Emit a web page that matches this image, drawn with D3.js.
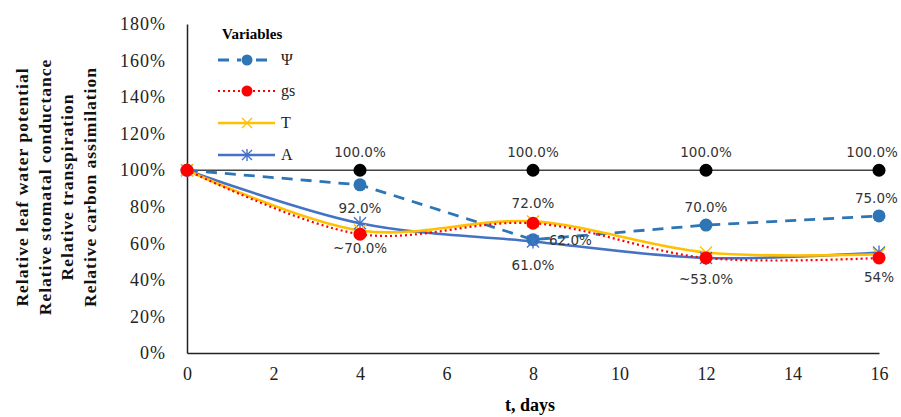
<!DOCTYPE html>
<html>
<head>
<meta charset="utf-8">
<script src="https://cdn.jsdelivr.net/npm/d3@7"></script>
<style>
  body { margin: 0; background: #fff; }
  svg { display: block; }
</style>
</head>
<body>
<div id="chart"></div>
<script>
// days on x axis
const days = [0, 4, 8, 12, 16];
const controlVals = [100, 100, 100, 100, 100];
const psiVals = [100, 92, 62, 70, 75];
const gsVals = [100, 65, 71, 52, 52];
const tVals = [100, 67, 72, 55, 54];
const aVals = [100, 71, 61, 52, 55];
const xTicks = [0, 2, 4, 6, 8, 10, 12, 14, 16];
const yTicks = [0, 20, 40, 60, 80, 100, 120, 140, 160, 180];
const legendNames = ["Ψ", "gs", "T", "A"];
const yTitleLines = ["Relative leaf water potential", "Relative stomatal conductance",
                     "Relative transpiration", "Relative carbon assimilation"];
// point labels: day, value shown, text, where it sits
const labelDays = [4, 8, 12, 16, 4, 4, 8, 8, 8, 12, 12, 16, 16];
const labelVals = [100, 100, 100, 100, 92, 70, 72, 62, 61, 70, 53, 75, 54];
const labelTexts = ["100.0%", "100.0%", "100.0%", "100.0%", "92.0%", "~70.0%", "72.0%",
                    "62.0%", "61.0%", "70.0%", "~53.0%", "75.0%", "54%"];
const labelPlace = ["above", "above", "above", "above", "below", "below", "above",
                    "right", "below", "above", "below", "above", "below"];

const W = 901, H = 417;
const svg = d3.select("#chart").append("svg")
    .attr("width", W)
    .attr("height", H);

svg.append("rect").attr("width", W).attr("height", H).attr("fill", "#fff");

const x = d3.scaleLinear().domain([0, 16]).range([187, 879]);
const y = d3.scaleLinear().domain([0, 180]).range([353, 24]);

const serif = "'Liberation Serif', 'Times New Roman', serif";

// axes
const yAxis = svg.append("g")
    .attr("transform", "translate(187,0)")
    .call(d3.axisLeft(y).tickValues(yTicks).tickSize(0).tickPadding(21).tickFormat(d => d + "%"));
yAxis.select(".domain").attr("stroke", "#222").attr("stroke-width", 1.5);
yAxis.selectAll("text")
    .attr("font-family", serif)
    .attr("font-size", 18)
    .attr("letter-spacing", 1)
    .attr("fill", "#222");

const xAxis = svg.append("g")
    .attr("transform", "translate(0,353)")
    .call(d3.axisBottom(x).tickValues(xTicks).tickSize(0).tickPadding(14));
xAxis.select(".domain").attr("stroke", "#222").attr("stroke-width", 1.5);
xAxis.selectAll("text")
    .attr("font-family", serif)
    .attr("font-size", 18)
    .attr("fill", "#222");

svg.append("text")
    .attr("x", 530)
    .attr("y", 411)
    .attr("text-anchor", "middle")
    .attr("font-family", serif)
    .attr("font-weight", "bold")
    .attr("font-size", 18)
    .text("t, days");

svg.selectAll("ytitle")
    .data(yTitleLines)
    .join("text")
    .attr("transform", (d, i) => "translate(" + (28 + i * 22.5) + ",187) rotate(-90)")
    .attr("text-anchor", "middle")
    .attr("font-family", serif)
    .attr("font-weight", "bold")
    .attr("font-size", 17.5)
    .attr("letter-spacing", 1)
    .attr("fill", "#111")
    .text(d => d);

const series = [
    {name: "ctrl", vals: controlVals, color: "#444", width: 1.6, dash: null, marker: "dot", mcolor: "#000"},
    {name: "Ψ", vals: psiVals, color: "#2E75B6", width: 2.8, dash: "11,8", marker: "dot", mcolor: "#2E75B6"},
    {name: "A", vals: aVals, color: "#4472C4", width: 2.6, dash: null, marker: "star", mcolor: "#4472C4"},
    {name: "T", vals: tVals, color: "#FFC000", width: 2.6, dash: null, marker: "cross", mcolor: "#FFC000"},
    {name: "gs", vals: gsVals, color: "#FF0000", width: 2.2, dash: "2,3", marker: "dot", mcolor: "#FF0000"}
];

const smooth = d3.line()
    .x(d => x(d[0]))
    .y(d => y(d[1]))
    .curve(d3.curveCatmullRom.alpha(0.5));
const straight = d3.line()
    .x(d => x(d[0]))
    .y(d => y(d[1]));

function drawMarker(g, type, color, cx, cy, r) {
    if (type === "dot") {
        g.append("circle").attr("cx", cx).attr("cy", cy).attr("r", r).attr("fill", color);
    } else {
        const s = r;
        g.append("path")
            .attr("d", `M${cx - s},${cy - s}L${cx + s},${cy + s}M${cx - s},${cy + s}L${cx + s},${cy - s}` +
                (type === "star" ? `M${cx},${cy - s - 1}L${cx},${cy + s + 1}` : ""))
            .attr("stroke", color)
            .attr("stroke-width", 1.4)
            .attr("fill", "none");
    }
}

series.forEach(s => {
    const pts = days.map((d, i) => [d, s.vals[i]]);
    svg.append("path")
        .attr("d", (s.name === "ctrl" || s.name === "Ψ") ? straight(pts) : smooth(pts))
        .attr("fill", "none")
        .attr("stroke", s.color)
        .attr("stroke-width", s.width)
        .attr("stroke-dasharray", s.dash);
});
series.forEach(s => {
    const g = svg.append("g");
    days.forEach((d, i) => {
        if (s.name === "ctrl" && d === 0) return;
        drawMarker(g, s.marker, s.mcolor, x(d), y(s.vals[i]), s.marker === "dot" ? 6.5 : 6);
    });
});

// point labels
const placeOffset = {above: [0, -13], below: [0, 28], right: [16, 5]};
svg.selectAll("ptlabel")
    .data(labelTexts)
    .join("text")
    .attr("x", (d, i) => x(labelDays[i]) + placeOffset[labelPlace[i]][0])
    .attr("y", (d, i) => y(labelVals[i]) + placeOffset[labelPlace[i]][1])
    .attr("text-anchor", (d, i) => labelPlace[i] === "right" ? "start" : "middle")
    .attr("font-family", "'DejaVu Sans', sans-serif")
    .attr("font-size", 13.5)
    .attr("fill", "#333")
    .text(d => d)
    .each(function () {
        // keep labels inside the right edge
        const b = this.getBBox();
        if (b.x + b.width > W - 3) {
            d3.select(this).attr("x", +d3.select(this).attr("x") - (b.x + b.width - (W - 3)));
        }
    });

// legend
const legend = svg.append("g");
legend.append("text")
    .attr("x", 222)
    .attr("y", 39)
    .attr("font-family", serif)
    .attr("font-weight", "bold")
    .attr("font-size", 15)
    .text("Variables");

const legendRows = [60, 91, 123, 155];
legendNames.forEach((nm, i) => {
    const s = series.find(d => d.name === nm);
    const ry = legendRows[i];
    legend.append("line")
        .attr("x1", 218).attr("x2", 275)
        .attr("y1", ry).attr("y2", ry)
        .attr("stroke", s.color)
        .attr("stroke-width", s.width)
        .attr("stroke-dasharray", s.dash);
    if (nm === "Ψ") {
        legend.append("rect").attr("x", 241).attr("y", ry - 6).attr("width", 12).attr("height", 12).attr("fill", "#fff");
    }
    drawMarker(legend, s.marker, s.mcolor, 247, ry, s.marker === "dot" ? 5.5 : 5);
    legend.append("text")
        .attr("x", 281)
        .attr("y", ry + 5)
        .attr("font-family", serif)
        .attr("font-size", 16)
        .attr("fill", "#222")
        .text(nm);
});
</script>
</body>
</html>
